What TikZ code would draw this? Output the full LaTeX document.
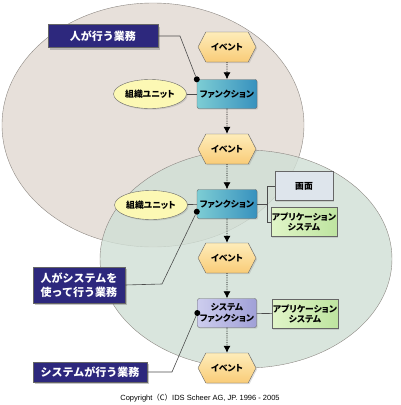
\documentclass[tikz,border=0pt]{standalone}
\usepackage{fontspec}
\newfontfamily\jp{Noto Sans CJK JP}
\newfontfamily\jpprop[RawFeature=+palt]{Noto Sans CJK JP}
\newfontfamily\lat{Liberation Sans}
\usetikzlibrary{shapes.geometric,shapes.symbols,shadows,arrows.meta}

\definecolor{humanarea}{RGB}{231,224,218}
\definecolor{systemarea}{RGB}{208,223,213}
\definecolor{arealine}{RGB}{140,135,130}
\definecolor{eventA}{RGB}{254,236,185}
\definecolor{eventB}{RGB}{249,204,120}
\definecolor{funcA}{RGB}{125,205,212}
\definecolor{funcB}{RGB}{55,145,190}
\definecolor{sysfuncA}{RGB}{205,205,238}
\definecolor{sysfuncB}{RGB}{160,160,215}
\definecolor{orgfill}{RGB}{252,248,180}
\definecolor{screenfill}{RGB}{222,229,236}
\definecolor{appA}{RGB}{225,245,200}
\definecolor{appB}{RGB}{190,228,160}
\definecolor{labelfill}{RGB}{45,40,125}

\begin{document}
\begin{tikzpicture}[x=1pt, y=-1pt, font=\jpprop\bfseries\fontsize{8.8}{10.5}\selectfont,
  base node/.style={draw=black!60, thin, inner sep=1pt, align=center,
    drop shadow={shadow xshift=1.2pt, shadow yshift=-1.2pt, opacity=0.25}},
  event node/.style={base node, signal, signal to=east and west, signal pointer angle=125,
    minimum width=58pt, minimum height=30pt, top color=eventA, bottom color=eventB},
  func node/.style={base node, rounded corners=2pt, minimum width=60pt, minimum height=29pt,
    left color=funcA, right color=funcB},
  sysfunc node/.style={base node, rounded corners=2pt, minimum width=59pt, minimum height=29pt,
    left color=sysfuncA, right color=sysfuncB},
  org node/.style={base node, ellipse, minimum width=60pt, minimum height=29pt, fill=orgfill},
  res node/.style={base node, minimum width=58pt, minimum height=29pt},
  label node/.style={draw=black!60, fill=labelfill, text=white, align=center,
    font=\jp\bfseries\fontsize{11}{14}\selectfont, inner sep=2pt,
    drop shadow={shadow xshift=2pt, shadow yshift=-2pt, opacity=0.45}},
  flow/.style={-{Latex[length=7pt,width=7pt]}, densely dotted, thick},
  link/.style={draw=black!70, semithick},
  dot/.style={circle, fill=black, inner sep=0pt, minimum size=6pt}]
\useasboundingbox (0,0) rectangle (400,405);

% areas
\draw[arealine, fill=humanarea] (153,125) ellipse [x radius=151, y radius=122];
\draw[arealine, fill=systemarea, fill opacity=0.8] (246,259) ellipse [x radius=146, y radius=109];

% process chain
\node[event node]   (e1) at (227,47)  {イベント};
\node[func node]    (f1) at (227,94)  {ファンクション};
\node[event node]   (e2) at (227,149) {イベント};
\node[func node]    (f2) at (227,204) {ファンクション};
\node[event node]   (e3) at (227,258) {イベント};
\node[sysfunc node] (f3) at (227,313) {システム\\ファンクション};
\node[event node]   (e4) at (227,368) {イベント};

\node[org node] (o1) at (150,94)  {組織ユニット};
\node[org node] (o2) at (151,205) {組織ユニット};

\node[res node, fill=screenfill]           (scr)  at (304,186) {画面};
\node[res node, left color=appA, right color=appB] (app1) at (304,222) {アプリケーション\\システム};
\node[res node, left color=appA, right color=appB] (app2) at (305,314) {アプリケーション\\システム};

\path[flow]
(e1) edge (f1)
(f1) edge (e2)
(e2) edge (f2)
(f2) edge (e3)
(e3) edge (f3)
(f3) edge (e4);

\draw[link] (o1) -- (f1);
\draw[link] (o2) -- (f2);
\draw[link] (f3) -- (app2);
\draw[link] (f2.east) -- ++(10,0);
\draw[link] (scr.west) -- ++(-8,0) |- (app1.west);

% labels
\node[label node, minimum width=110pt, minimum height=23pt] (l1) at (103,36) {人が行う業務};
\node[label node, minimum width=92pt, minimum height=36pt, align=left] (l2) at (79,285) {人がシステムを\\使って行う業務};
\node[label node, minimum width=114pt, minimum height=20pt] (l3) at (90,372) {システムが行う業務};

\node[dot] (d1) at (f1.north west) {};
\node[dot] (d2) at ([yshift=7pt]f2.south west) {};
\node[dot] (d3) at (f3.west) {};

\draw[link] (l1.east) -- (180,36) -- (d1);
\draw[link] (l2.east) -- (162,284) -- (d2);
\draw[link] (l3.east) -- (172,372) -- (d3);

\node[font=\lat\fontsize{7.5}{9}\selectfont] (copy) at (200,398)
  {Copyright{\jp（C）}IDS Scheer AG, JP. 1996 - 2005};
\end{tikzpicture}
\end{document}
